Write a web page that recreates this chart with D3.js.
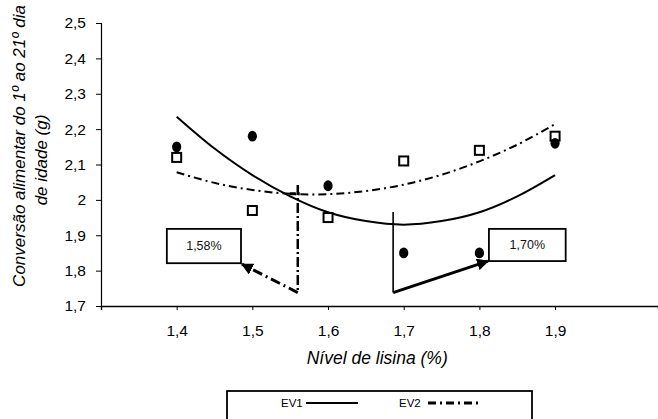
<!DOCTYPE html>
<html><head><meta charset="utf-8">
<script src="https://cdn.jsdelivr.net/npm/d3@7"></script>
<style>
html,body{margin:0;padding:0;background:#fff;}
svg{display:block;font-family:"Liberation Sans",Arial,sans-serif;}
</style></head>
<body>
<svg id="chart" width="658" height="419"></svg>
<script>
// ---- data ----
const lysine = [1.4, 1.5, 1.6, 1.7, 1.8, 1.9];
const ev1Obs = [2.15, 2.18, 2.04, 1.85, 1.85, 2.16];
const ev2Obs = [2.12, 1.97, 1.95, 2.11, 2.14, 2.18];
const fitX   = [1.40, 1.45, 1.50, 1.55, 1.60, 1.65, 1.70, 1.75, 1.80, 1.85, 1.90];
const ev1Fit = [2.235, 2.145, 2.07, 2.01, 1.965, 1.94, 1.93, 1.94, 1.965, 2.01, 2.07];
const ev2Fit = [2.078, 2.048, 2.028, 2.017, 2.016, 2.025, 2.043, 2.071, 2.109, 2.156, 2.214];
const xTicks = [1.4, 1.5, 1.6, 1.7, 1.8, 1.9];
const yTicks = [1.7, 1.8, 1.9, 2.0, 2.1, 2.2, 2.3, 2.4, 2.5];
const optimaLabels = ["1,58%", "1,70%"];
const optimaX = [1.56, 1.686];
const optimaTop = [2.042, 1.966];
const optimaBottom = 1.738;
const boxX0 = [1.387, 1.8126];
const boxX1 = [1.485, 1.914];
const boxYTop = 1.918;
const boxYBot = [1.821, 1.827];
const seriesNames = ["EV1", "EV2"];
const xTitle = "Nível de lisina (%)";
const yTitle = ["Conversão alimentar do 1º ao 21º dia", "de idade (g)"];

// ---- scales ----
const svg = d3.select("#chart");
const x = d3.scaleLinear().domain([1.3, 2.036]).range([101, 658]);
const y = d3.scaleLinear().domain([1.7, 2.5]).range([306, 23]);
const fmt = d => d === 2 ? "2" : d3.format(".1f")(d).replace(".", ",");

// defs for arrowheads
const defs = svg.append("defs");
defs.append("marker").attr("id", "arr").attr("viewBox", "0 0 10 10")
  .attr("refX", 9).attr("refY", 5).attr("markerWidth", 4).attr("markerHeight", 4)
  .attr("markerUnits", "strokeWidth").attr("orient", "auto")
  .append("path").attr("d", "M0,0 L10,5 L0,10 z").attr("fill", "#000");

// ---- axes ----
const yAxis = d3.axisLeft(y).tickValues(yTicks).tickFormat(fmt).tickSize(5).tickPadding(10);
const gy = svg.append("g").attr("transform", "translate(101,0)").call(yAxis);
gy.select(".domain").attr("stroke", "#000").attr("stroke-width", 1.2);
gy.selectAll("text").attr("font-size", 15.5).attr("fill", "#000");

const xAxis = d3.axisBottom(x).tickValues(xTicks).tickFormat(fmt).tickSize(4).tickPadding(15);
const gx = svg.append("g").attr("transform", "translate(0,306)").call(xAxis);
gx.select(".domain").attr("stroke", "#000").attr("stroke-width", 1.4);
gx.selectAll("text").attr("font-size", 15.5).attr("fill", "#000");

// axis titles
svg.append("text").attr("x", x(1.665)).attr("y", 364).attr("text-anchor", "middle")
  .attr("font-size", 17.5).attr("font-style", "italic").text(xTitle);
svg.append("text").attr("transform", "translate(25,146) rotate(-90)").attr("text-anchor", "middle")
  .attr("font-size", 17).attr("font-style", "italic").text(yTitle[0]);
svg.append("text").attr("transform", "translate(47,160) rotate(-90)").attr("text-anchor", "middle")
  .attr("font-size", 17).attr("font-style", "italic").text(yTitle[1]);

// ---- fitted curves ----
const line = d3.line().x((d, i) => x(fitX[i])).y(d => y(d)).curve(d3.curveCatmullRom);
svg.append("path").attr("d", line(ev1Fit)).attr("fill", "none").attr("stroke", "#000").attr("stroke-width", 2);
svg.append("path").attr("d", line(ev2Fit)).attr("fill", "none").attr("stroke", "#000")
  .attr("stroke-width", 2).attr("stroke-dasharray", "8,4,2,4");

// ---- optimum markers ----
// left (EV2): dash-dot vertical + dash-dot arrow
svg.append("line").attr("x1", x(optimaX[0])).attr("x2", x(optimaX[0]))
  .attr("y1", y(optimaTop[0])).attr("y2", y(optimaBottom))
  .attr("stroke", "#000").attr("stroke-width", 2.5).attr("stroke-dasharray", "10,3,2,3");
svg.append("line").attr("x1", x(optimaX[0]) - 8).attr("x2", x(optimaX[0]) + 3)
  .attr("y1", y(ev2Fit[3]) ).attr("y2", y(ev2Fit[3]))
  .attr("stroke", "#000").attr("stroke-width", 3).attr("stroke-dasharray", "6,2,2,2");
svg.append("line").attr("x1", x(optimaX[0])).attr("y1", y(optimaBottom))
  .attr("x2", x(boxX1[0]) + 1).attr("y2", y(boxYBot[0]) + 1)
  .attr("stroke", "#000").attr("stroke-width", 3).attr("stroke-dasharray", "10,4,2,4")
  .attr("marker-end", "url(#arr)");
// right (EV1): solid vertical + solid arrow
svg.append("line").attr("x1", x(optimaX[1])).attr("x2", x(optimaX[1]))
  .attr("y1", y(optimaTop[1])).attr("y2", y(optimaBottom))
  .attr("stroke", "#000").attr("stroke-width", 1.6);
svg.append("line").attr("x1", x(optimaX[1])).attr("y1", y(optimaBottom))
  .attr("x2", x(boxX0[1]) - 1).attr("y2", y(boxYBot[1]))
  .attr("stroke", "#000").attr("stroke-width", 3).attr("marker-end", "url(#arr)");

// ---- observed points ----
svg.selectAll(".sq").data(ev2Obs).join("rect").attr("class", "sq")
  .attr("x", (d, i) => x(lysine[i]) - 4.5).attr("y", d => y(d) - 4.5)
  .attr("width", 9).attr("height", 9)
  .attr("fill", "#fff").attr("stroke", "#000").attr("stroke-width", 2);
svg.selectAll(".ci").data(ev1Obs).join("ellipse").attr("class", "ci")
  .attr("cx", (d, i) => x(lysine[i])).attr("cy", d => y(d))
  .attr("rx", 4.6).attr("ry", 5.4).attr("fill", "#000");

// ---- label boxes ----
optimaLabels.forEach((lab, i) => {
  const x0 = x(boxX0[i]), x1 = x(boxX1[i]), y0 = y(boxYTop), y1 = y(boxYBot[i]);
  svg.append("rect").attr("x", x0).attr("y", y0).attr("width", x1 - x0).attr("height", y1 - y0)
    .attr("fill", "#fff").attr("stroke", "#000").attr("stroke-width", 1.8);
  svg.append("text").attr("x", (x0 + x1) / 2).attr("y", (y0 + y1) / 2).attr("dy", "0.35em")
    .attr("text-anchor", "middle").attr("font-size", 12.5).attr("fill", "#111").text(lab);
});

// ---- legend ----
const lg = svg.append("g");
lg.append("rect").attr("x", 227).attr("y", 391).attr("width", 305).attr("height", 50)
  .attr("fill", "#fff").attr("stroke", "#000").attr("stroke-width", 1.8);
lg.append("text").attr("x", 281).attr("y", 407).attr("font-size", 11.5).text(seriesNames[0]);
lg.append("line").attr("x1", 306).attr("x2", 358).attr("y1", 403).attr("y2", 403)
  .attr("stroke", "#000").attr("stroke-width", 2);
lg.append("text").attr("x", 399).attr("y", 407).attr("font-size", 11.5).text(seriesNames[1]);
lg.append("line").attr("x1", 428).attr("x2", 481).attr("y1", 403).attr("y2", 403)
  .attr("stroke", "#000").attr("stroke-width", 3).attr("stroke-dasharray", "8,4,2,4");
</script>
</body></html>
